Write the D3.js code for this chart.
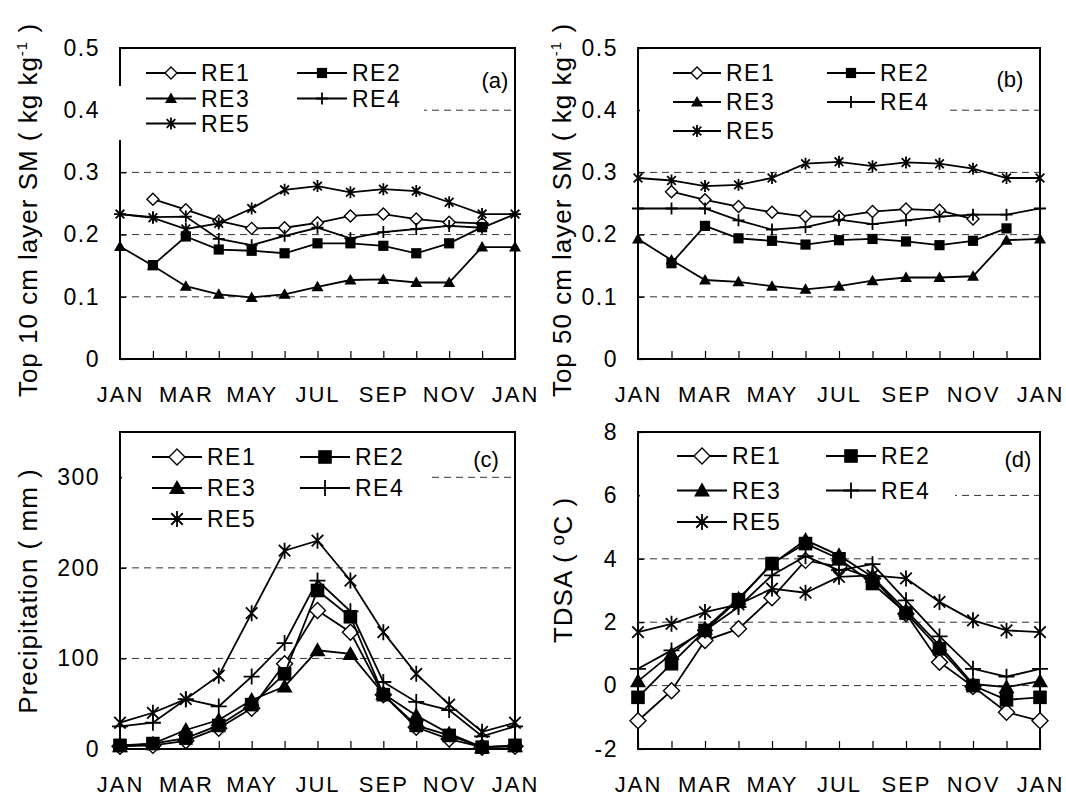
<!DOCTYPE html>
<html>
<head>
<meta charset="utf-8">
<script src="https://cdn.jsdelivr.net/npm/d3@7"></script>
<style>
  body { margin: 0; background: #fff; }
  svg { display: block; }
  text { font-family: 'Liberation Sans', Arial, sans-serif; fill: #000; }
</style>
</head>
<body>
<div id="chart"></div>
<script>
// Month positions (13 points, JAN repeated at the end)
const months = ['JAN', 'FEB', 'MAR', 'APR', 'MAY', 'JUN', 'JUL', 'AUG', 'SEP', 'OCT', 'NOV', 'DEC', 'JAN'];
const seriesNames = ['RE1', 'RE2', 'RE3', 'RE4', 'RE5'];
const markerTypes = ['diamond', 'square', 'triangle', 'plus', 'star'];

// (a) Top 10 cm layer SM
const smTop10 = [
  [null, 0.257, 0.240, 0.222, 0.210, 0.211, 0.219, 0.230, 0.233, 0.225, 0.220, 0.218, null],
  [null, 0.151, 0.197, 0.176, 0.174, 0.170, 0.186, 0.186, 0.182, 0.170, 0.186, 0.212, null],
  [0.181, 0.150, 0.117, 0.104, 0.099, 0.104, 0.116, 0.127, 0.128, 0.123, 0.123, 0.180, 0.180],
  [0.233, 0.228, 0.229, 0.193, 0.183, 0.198, 0.211, 0.194, 0.204, 0.209, 0.214, 0.211, 0.233],
  [0.233, 0.227, 0.209, 0.218, 0.242, 0.272, 0.278, 0.268, 0.273, 0.270, 0.252, 0.233, 0.233]
];

// (b) Top 50 cm layer SM
const smTop50 = [
  [null, 0.269, 0.256, 0.245, 0.236, 0.229, 0.229, 0.237, 0.241, 0.239, 0.225, null, null],
  [null, 0.154, 0.214, 0.194, 0.190, 0.184, 0.191, 0.193, 0.189, 0.183, 0.190, 0.210, null],
  [0.193, 0.159, 0.127, 0.124, 0.117, 0.112, 0.117, 0.126, 0.131, 0.131, 0.133, 0.191, 0.193],
  [0.242, 0.242, 0.242, 0.223, 0.208, 0.212, 0.224, 0.217, 0.223, 0.229, 0.232, 0.232, 0.242],
  [0.291, 0.287, 0.278, 0.280, 0.291, 0.314, 0.317, 0.310, 0.316, 0.314, 0.306, 0.291, 0.291]
];

// (c) Precipitation (mm)
const precip = [
  [3, 4, 9, 23, 45, 94, 153, 129, 60, 24, 11, 2, 3],
  [4, 6, 12, 26, 49, 83, 175, 146, 60, 26, 15, 2, 4],
  [3, 6, 21, 32, 54, 69, 109, 105, 61, 37, 17, 2, 3],
  [25, 29, 55, 47, 80, 117, 186, 152, 74, 52, 43, 14, 25],
  [29, 40, 55, 81, 150, 219, 230, 186, 129, 83, 49, 19, 29]
];

// (d) TDSA (ºC)
const tdsa = [
  [-1.11, -0.16, 1.42, 1.79, 2.77, 3.95, 3.75, 3.38, 2.27, 0.74, -0.03, -0.84, -1.11],
  [-0.37, 0.69, 1.74, 2.71, 3.85, 4.48, 4.00, 3.22, 2.29, 1.16, 0.00, -0.45, -0.37],
  [0.14, 1.00, 1.80, 2.74, 3.83, 4.59, 4.11, 3.43, 2.37, 1.27, 0.05, -0.05, 0.14],
  [0.53, 1.11, 1.74, 2.48, 3.48, 4.08, 3.64, 3.83, 2.69, 1.55, 0.53, 0.28, 0.53],
  [1.69, 1.95, 2.32, 2.56, 3.06, 2.93, 3.43, 3.48, 3.38, 2.64, 2.06, 1.74, 1.69]
];

const yTicksSM = [0, 0.1, 0.2, 0.3, 0.4, 0.5];
const yTicksPrecip = [0, 100, 200, 300];
const yTicksTdsa = [-2, 0, 2, 4, 6, 8];

const svg = d3.select('#chart').append('svg')
  .attr('width', 1066)
  .attr('height', 797);

// Draw a marker of the given type centred on (cx, cy)
function drawMarker(g, type, cx, cy, s) {
  const h = s / 2;
  if (type === 'diamond') {
    g.append('path')
      .attr('d', `M${cx},${cy - h}L${cx + h},${cy}L${cx},${cy + h}L${cx - h},${cy}Z`)
      .attr('fill', '#fff').attr('stroke', '#000').attr('stroke-width', 1.4);
  } else if (type === 'square') {
    const q = h * 0.85;
    g.append('rect')
      .attr('x', cx - q).attr('y', cy - q).attr('width', 2 * q).attr('height', 2 * q)
      .attr('fill', '#000');
  } else if (type === 'triangle') {
    g.append('path')
      .attr('d', `M${cx},${cy - h}L${cx + h},${cy + h * 0.75}L${cx - h},${cy + h * 0.75}Z`)
      .attr('fill', '#000');
  } else if (type === 'plus') {
    g.append('path')
      .attr('d', `M${cx - h},${cy}L${cx + h},${cy}M${cx},${cy - h}L${cx},${cy + h}`)
      .attr('stroke', '#000').attr('stroke-width', 1.8).attr('fill', 'none');
  } else {
    const k = h * 0.72;
    g.append('path')
      .attr('d', `M${cx - k},${cy - k}L${cx + k},${cy + k}M${cx + k},${cy - k}L${cx - k},${cy + k}M${cx},${cy - h}L${cx},${cy + h}`)
      .attr('stroke', '#000').attr('stroke-width', 1.8).attr('fill', 'none');
  }
}

function drawPanel(cfg) {
  const g = svg.append('g');

  const x = d3.scaleLinear().domain([0, 12]).range([cfg.x0, cfg.x1]);
  const y = d3.scaleLinear().domain(cfg.domain).range([cfg.y1, cfg.y0]);

  // dashed gridlines
  g.selectAll('.grid')
    .data(cfg.grid)
    .enter()
    .append('line')
    .attr('x1', cfg.x0).attr('x2', cfg.x1)
    .attr('y1', d => y(d)).attr('y2', d => y(d))
    .attr('stroke', '#333')
    .attr('stroke-width', 1)
    .attr('stroke-dasharray', '7,5');

  // frame
  g.append('rect')
    .attr('x', cfg.x0).attr('y', cfg.y0)
    .attr('width', cfg.x1 - cfg.x0).attr('height', cfg.y1 - cfg.y0)
    .attr('fill', 'none').attr('stroke', '#000').attr('stroke-width', 2);

  // y axis
  const yAxis = g.append('g')
    .attr('transform', `translate(${cfg.x0},0)`)
    .call(d3.axisLeft(y).tickValues(cfg.ticks).tickSize(-6).tickPadding(20).tickFormat(cfg.fmt));
  yAxis.select('.domain').remove();
  yAxis.selectAll('line').attr('stroke-width', 1.2);
  yAxis.selectAll('text')
    .attr('font-size', '23px')
    .attr('letter-spacing', '1.5px')
    .attr('font-family', "'Liberation Sans', Arial, sans-serif");

  // x axis
  const xAxis = g.append('g')
    .attr('transform', `translate(0,${cfg.y1})`)
    .call(d3.axisBottom(x).tickValues(d3.range(13)).tickSize(-8).tickPadding(27)
      .tickFormat(i => (i % 2 === 0 ? months[i] : '')));
  xAxis.select('.domain').remove();
  xAxis.selectAll('line').attr('stroke-width', 1.2);
  xAxis.selectAll('text')
    .attr('font-size', '22px')
    .attr('letter-spacing', '2px')
    .attr('font-family', "'Liberation Sans', Arial, sans-serif");

  // legend background (covers gridlines behind the legend)
  g.append('rect')
    .attr('x', cfg.legBg[0]).attr('y', cfg.legBg[1])
    .attr('width', cfg.legBg[2]).attr('height', cfg.legBg[3])
    .attr('fill', '#fff');

  // series lines and markers
  cfg.data.forEach((vals, si) => {
    const line = d3.line()
      .defined(d => d != null)
      .x((d, i) => x(i))
      .y(d => y(d));
    g.append('path')
      .datum(vals)
      .attr('d', line)
      .attr('fill', 'none')
      .attr('stroke', '#000')
      .attr('stroke-width', 1.8);
    const mg = g.append('g');
    vals.forEach((v, i) => {
      if (v != null) drawMarker(mg, markerTypes[si], x(i), y(v), cfg.ms);
    });
  });

  // legend
  const leg = cfg.leg;
  seriesNames.forEach((name, si) => {
    const col = si % 2;
    const row = Math.floor(si / 2);
    const lx = leg.cols[col];
    const ly = leg.rows[row];
    g.append('line')
      .attr('x1', lx).attr('x2', lx + leg.len)
      .attr('y1', ly).attr('y2', ly)
      .attr('stroke', '#000').attr('stroke-width', 1.8);
    drawMarker(g, markerTypes[si], lx + leg.len / 2, ly, cfg.ms);
    g.append('text')
      .attr('x', lx + leg.len + 5)
      .attr('y', ly)
      .attr('dy', '0.36em')
      .attr('font-size', '23px')
      .attr('letter-spacing', '1.5px')
      .text(name);
  });

  // panel tag
  g.append('text')
    .attr('x', cfg.tag[0]).attr('y', cfg.tag[1])
    .attr('dy', '0.36em')
    .attr('font-size', '22px')
    .attr('text-anchor', 'middle')
    .text(cfg.tagText);

  // y title
  const t = g.append('text')
    .attr('transform', `translate(${cfg.title[0]},${cfg.title[1]}) rotate(-90)`)
    .attr('text-anchor', 'middle')
    .attr('font-size', '26px')
    .attr('letter-spacing', '1px');
  cfg.titleParts.forEach(p => {
    const ts = t.append('tspan').text(p.t);
    if (p.sup) ts.attr('font-size', '15px').attr('baseline-shift', '65%');
  });
}

const smFmt = d => (d === 0 ? '0' : d.toFixed(1));

drawPanel({
  x0: 120, x1: 515, y0: 48, y1: 359,
  domain: [0, 0.5], ticks: yTicksSM, grid: [0.1, 0.2, 0.3, 0.4], fmt: smFmt,
  data: smTop10, ms: 12,
  legBg: [118, 86, 306, 54],
  leg: { cols: [146, 297], rows: [73, 98.5, 123.5], len: 50 },
  tag: [495, 80], tagText: '(a)',
  title: [37, 210],
  titleParts: [{ t: 'Top 10 cm layer SM ( kg kg' }, { t: '-1', sup: true }, { t: ' )' }]
});

drawPanel({
  x0: 638, x1: 1040, y0: 48, y1: 359,
  domain: [0, 0.5], ticks: yTicksSM, grid: [0.1, 0.2, 0.3, 0.4], fmt: smFmt,
  data: smTop50, ms: 12,
  legBg: [640, 96, 308, 50],
  leg: { cols: [673, 827], rows: [73, 102, 131], len: 48 },
  tag: [1010, 79], tagText: '(b)',
  title: [571, 210],
  titleParts: [{ t: 'Top 50 cm layer SM ( kg kg' }, { t: '-1', sup: true }, { t: ' )' }]
});

drawPanel({
  x0: 120, x1: 515, y0: 432, y1: 749,
  domain: [0, 350], ticks: yTicksPrecip, grid: [100, 200, 300], fmt: d => d,
  data: precip, ms: 16,
  legBg: [122, 434, 305, 100],
  leg: { cols: [152, 300], rows: [457, 488, 519], len: 50 },
  tag: [486, 459], tagText: '(c)',
  title: [37, 591],
  titleParts: [{ t: 'Precipitation ( mm )' }]
});

drawPanel({
  x0: 638, x1: 1040, y0: 432, y1: 749,
  domain: [-2, 8], ticks: yTicksTdsa, grid: [0, 2, 4, 6], fmt: d => d,
  data: tdsa, ms: 16,
  legBg: [640, 434, 315, 100],
  leg: { cols: [677, 826], rows: [456, 490.5, 522], len: 50 },
  tag: [1018, 459.5], tagText: '(d)',
  title: [572, 570],
  titleParts: [{ t: 'TDSA ( ºC )' }]
});
</script>
</body>
</html>
